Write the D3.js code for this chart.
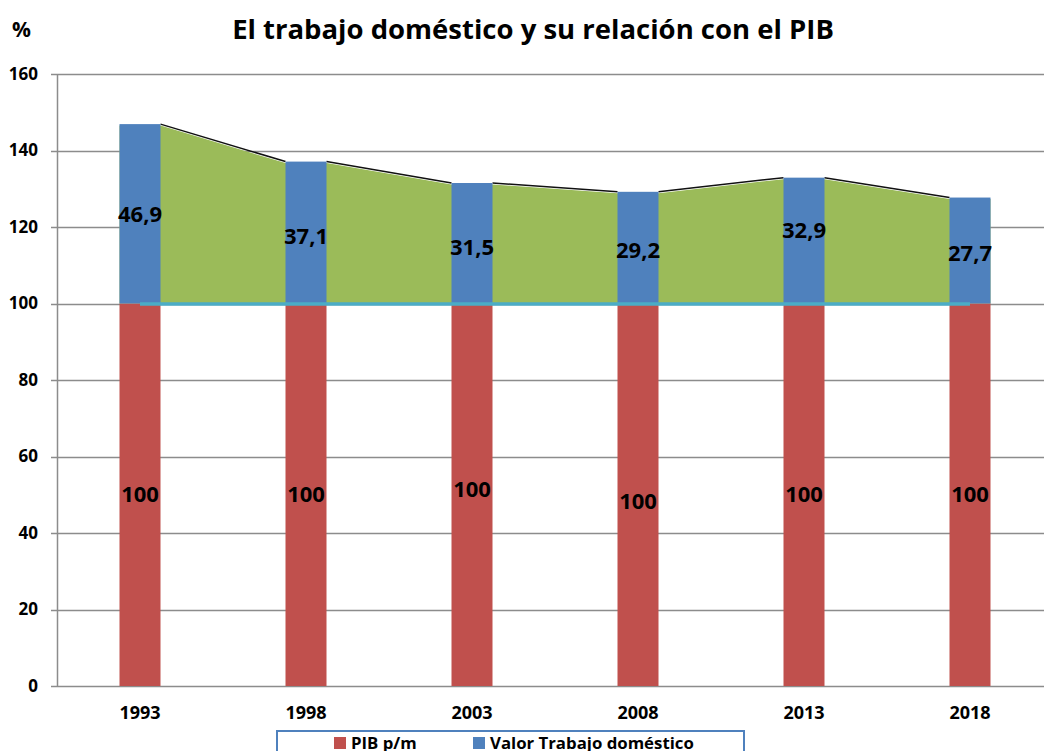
<!DOCTYPE html>
<html>
<head>
<meta charset="utf-8">
<script src="https://cdn.jsdelivr.net/npm/d3@7"></script>
<style>
  body { margin: 0; background: #fff; }
  svg { display: block; font-family: "Open Sans", Lato, sans-serif; font-weight: bold; }
</style>
</head>
<body>
<svg id="chart"></svg>
<script>
// data
const years = ["1993", "1998", "2003", "2008", "2013", "2018"];
const pib = [100, 100, 100, 100, 100, 100];
const trabajo = [46.9, 37.1, 31.5, 29.2, 32.9, 27.7];
const yTicks = [0, 20, 40, 60, 80, 100, 120, 140, 160];

const width = 1044, height = 751;
const margin = {top: 74, right: -9, bottom: 65, left: 57};

const svg = d3.select('#chart')
    .attr('width', width)
    .attr('height', height);

const x = d3.scaleBand()
    .domain(years)
    .range([margin.left, width - margin.right])
    .paddingInner(0.753)
    .paddingOuter(0.3765);

const y = d3.scaleLinear()
    .domain([0, 160])
    .range([height - margin.bottom, margin.top]);

const fmt = v => String(v).replace('.', ',');

// title
svg.append('text')
    .attr('x', 533).attr('y', 39)
    .attr('text-anchor', 'middle')
    .attr('font-size', 27.5)
    .text('El trabajo doméstico y su relación con el PIB');

svg.append('text')
    .attr('x', 12).attr('y', 37)
    .attr('font-size', 21)
    .text('%');

// gridlines
svg.append('g')
    .selectAll('line')
    .data(yTicks)
    .join('line')
    .attr('x1', margin.left - 6)
    .attr('x2', width)
    .attr('y1', d => Math.round(y(d)) + 0.5)
    .attr('y2', d => Math.round(y(d)) + 0.5)
    .attr('stroke', '#8c8c8c')
    .attr('stroke-width', 1.5);

// y axis line
svg.append('line')
    .attr('x1', margin.left + 0.5).attr('x2', margin.left + 0.5)
    .attr('y1', y(160)).attr('y2', y(0))
    .attr('stroke', '#8c8c8c')
    .attr('stroke-width', 1.5);

svg.append('g')
    .selectAll('text')
    .data(yTicks)
    .join('text')
    .attr('x', 38)
    .attr('y', d => y(d))
    .attr('dy', '0.35em')
    .attr('text-anchor', 'end')
    .attr('font-size', 17)
    .text(d => d);

// green area between the bars
const pts = [];
years.forEach((yr, i) => {
    const top = pib[i] + trabajo[i];
    pts.push([x(yr), top]);
    pts.push([x(yr) + x.bandwidth(), top]);
});

const area = d3.area()
    .x(d => d[0])
    .y0(y(100))
    .y1(d => y(d[1]) + 1.5);

svg.append('path')
    .attr('d', area(pts))
    .attr('fill', '#9BBB59');

// black segments from one bar top to the next
const segs = years.slice(0, -1).map((yr, i) => [
    [x(yr) + x.bandwidth(), pib[i] + trabajo[i]],
    [x(years[i + 1]), pib[i + 1] + trabajo[i + 1]]
]);

const line = d3.line()
    .x(d => d[0])
    .y(d => y(d[1]));

svg.append('g')
    .selectAll('path')
    .data(segs)
    .join('path')
    .attr('d', line)
    .attr('fill', 'none')
    .attr('stroke', '#111')
    .attr('stroke-width', 1.5);

// stacked bars
svg.append('g')
    .selectAll('rect')
    .data(years)
    .join('rect')
    .attr('x', d => x(d))
    .attr('width', x.bandwidth())
    .attr('y', (d, i) => y(pib[i]))
    .attr('height', (d, i) => y(0) - y(pib[i]))
    .attr('fill', '#C0504D');

svg.append('g')
    .selectAll('rect')
    .data(years)
    .join('rect')
    .attr('x', d => x(d))
    .attr('width', x.bandwidth())
    .attr('y', (d, i) => y(pib[i] + trabajo[i]))
    .attr('height', (d, i) => y(pib[i]) - y(pib[i] + trabajo[i]))
    .attr('fill', '#4F81BD');

// 100 reference line
svg.append('line')
    .attr('x1', x(years[0]) + x.bandwidth() / 2)
    .attr('x2', x(years[years.length - 1]) + x.bandwidth() / 2)
    .attr('y1', y(100) + 0.5)
    .attr('y2', y(100) + 0.5)
    .attr('stroke', '#4BACC6')
    .attr('stroke-width', 3.5);

// data labels
const redOff = [0, 0, -5, 7, 0, 0];
const blueOff = [0, 4, 4, 3, -10, 3];

svg.append('g')
    .selectAll('text')
    .data(years)
    .join('text')
    .attr('x', d => x(d) + x.bandwidth() / 2)
    .attr('y', (d, i) => y(pib[i] / 2) + redOff[i])
    .attr('dy', '0.35em')
    .attr('text-anchor', 'middle')
    .attr('font-size', 22)
    .text((d, i) => fmt(pib[i]));

svg.append('g')
    .selectAll('text')
    .data(years)
    .join('text')
    .attr('x', d => x(d) + x.bandwidth() / 2)
    .attr('y', (d, i) => y(pib[i] + trabajo[i] / 2) + blueOff[i])
    .attr('dy', '0.35em')
    .attr('text-anchor', 'middle')
    .attr('font-size', 22)
    .text((d, i) => fmt(trabajo[i]));

// x labels
svg.append('g')
    .selectAll('text')
    .data(years)
    .join('text')
    .attr('x', d => x(d) + x.bandwidth() / 2)
    .attr('y', 719)
    .attr('text-anchor', 'middle')
    .attr('font-size', 18)
    .text(d => d);

// legend
const legend = svg.append('g');
legend.append('rect')
    .attr('x', 277).attr('y', 731)
    .attr('width', 467).attr('height', 40)
    .attr('fill', '#fff')
    .attr('stroke', '#4F81BD')
    .attr('stroke-width', 2);

const legItems = [
    {label: 'PIB p/m', color: '#C0504D', x: 334},
    {label: 'Valor Trabajo doméstico', color: '#4F81BD', x: 473}
];

legItems.forEach(it => {
    legend.append('rect')
        .attr('x', it.x).attr('y', 737)
        .attr('width', 12).attr('height', 12)
        .attr('fill', it.color);
    legend.append('text')
        .attr('x', it.x + 17).attr('y', 749)
        .attr('font-size', 16.8)
        .text(it.label);
});
</script>
</body>
</html>
